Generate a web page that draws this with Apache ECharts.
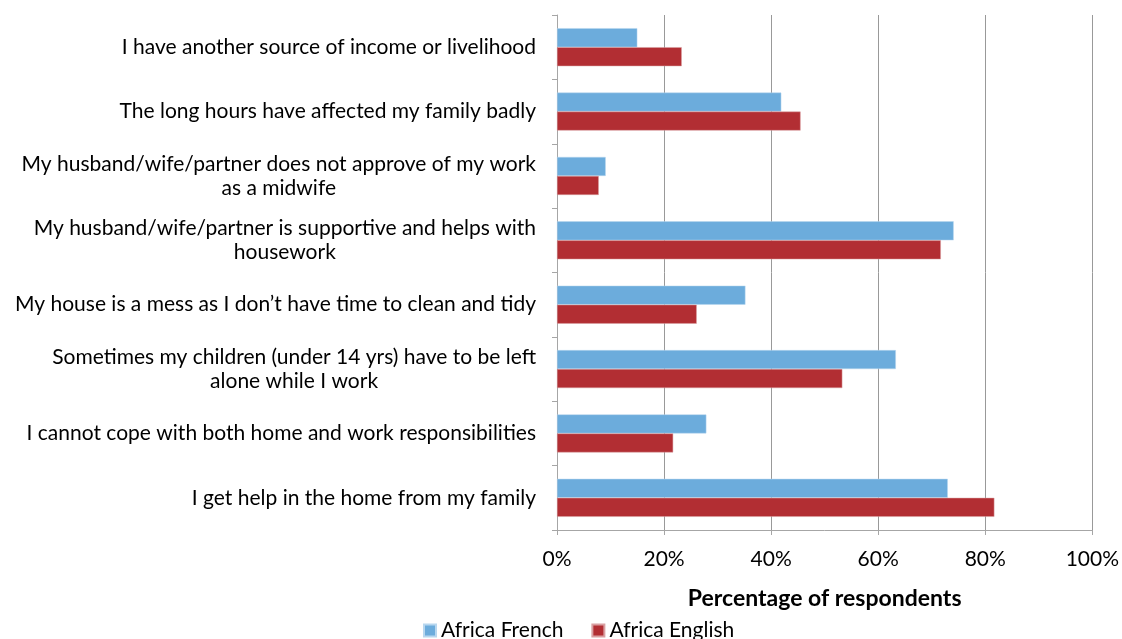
<!DOCTYPE html>
<html>
<head>
<meta charset="utf-8">
<script src="https://cdn.jsdelivr.net/npm/echarts@6/dist/echarts.min.js"></script>
<style>
  html, body { margin: 0; padding: 0; background: #fff; }
  #chart { width: 1122px; height: 639px; }
</style>
</head>
<body>
<div id="chart"></div>
<script>
// categories, top to bottom
var categories = [
  'I have another source of income or livelihood',
  'The long hours have affected my family badly',
  'My husband/wife/partner does not approve of my work\nas a midwife',
  'My husband/wife/partner is supportive and helps with\nhousework',
  'My house is a mess as I don\u2019t have time to clean and tidy',
  'Sometimes my children (under 14 yrs) have to be left\nalone while I work',
  'I cannot cope with both home and work responsibilities',
  'I get help in the home from my family'
];
var africaFrench = [15.0, 41.9, 9.1, 74.1, 35.2, 63.3, 27.9, 73.0];
var africaEnglish = [23.3, 45.5, 7.8, 71.7, 26.1, 53.3, 21.7, 81.7];
var xTicks = [0, 20, 40, 60, 80, 100];

var chart = echarts.init(document.getElementById('chart'));
var font = 'Lato, "Open Sans", sans-serif';

var option = {
  animation: false,
  textStyle: { fontFamily: font },
  grid: { left: 557, right: 28, top: 15, bottom: 109 },
  legend: {
    left: 418,
    bottom: -7,
    itemWidth: 12,
    itemHeight: 12,
    itemGap: 28,
    icon: 'rect',
    textStyle: { fontSize: 21, color: '#000', fontFamily: font },
    data: ['Africa French', 'Africa English']
  },
  xAxis: {
    type: 'value',
    min: xTicks[0],
    max: xTicks[xTicks.length - 1],
    interval: 20,
    name: 'Percentage of respondents',
    nameLocation: 'middle',
    nameGap: 57,
    nameTextStyle: { fontSize: 23, fontWeight: 'bold', color: '#000', fontFamily: font },
    axisLine: { show: true, lineStyle: { color: '#a6a6a6', width: 1 } },
    axisTick: { show: true, length: 5, lineStyle: { color: '#a6a6a6' } },
    axisLabel: { formatter: '{value}%', fontSize: 21, color: '#000', margin: 19 },
    splitLine: { show: true, lineStyle: { color: '#999', width: 1 } }
  },
  yAxis: {
    type: 'category',
    inverse: true,
    data: categories,
    axisLine: { show: true, lineStyle: { color: '#a6a6a6', width: 1 } },
    axisTick: { show: true, length: 5, lineStyle: { color: '#a6a6a6' } },
    axisLabel: {
      margin: 21,
      fontSize: 21,
      color: '#000',
      lineHeight: 24,
      formatter: function (v) {
        return v.split('\n').map(function (s) { return '{c|' + s + '}'; }).join('\n');
      },
      rich: {
        c: { align: 'center', fontSize: 21, lineHeight: 24, color: '#000', fontFamily: font }
      }
    }
  },
  series: [
    {
      name: 'Africa French',
      type: 'bar',
      data: africaFrench,
      barWidth: 19,
      barGap: '0%',
      itemStyle: { color: '#6cacdc', borderColor: '#b8d7ef', borderWidth: 0.5 }
    },
    {
      name: 'Africa English',
      type: 'bar',
      data: africaEnglish,
      barWidth: 19,
      barGap: '0%',
      itemStyle: { color: '#b22e33', borderColor: '#d9a0a2', borderWidth: 0.5 }
    }
  ]
};
chart.setOption(option);
</script>
</body>
</html>
